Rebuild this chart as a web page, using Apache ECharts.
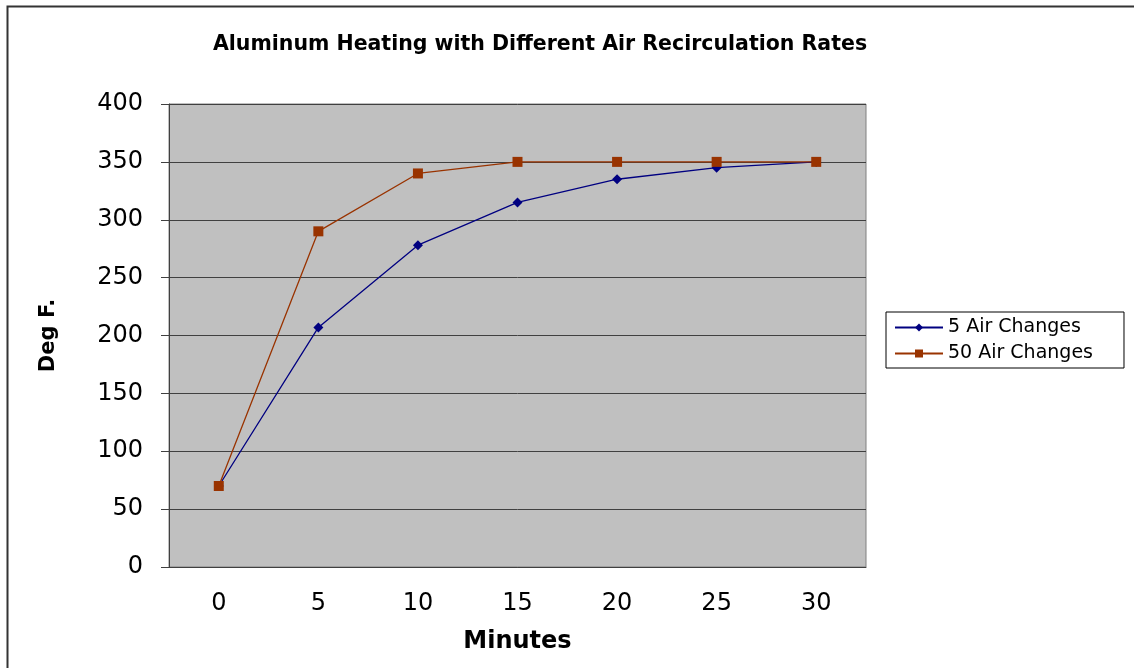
<!DOCTYPE html>
<html>
<head>
<meta charset="utf-8">
<script src="https://cdn.jsdelivr.net/npm/echarts@6/dist/echarts.min.js"></script>
<style>
  html, body { margin: 0; padding: 0; background: #fff; }
  #main { width: 1134px; height: 668px; }
</style>
</head>
<body>
<div id="main"></div>
<script>
const minutes = ['0', '5', '10', '15', '20', '25', '30']
const airChanges5 = [70, 207, 278, 315, 335, 345, 350]
const airChanges50 = [70, 290, 340, 350, 350, 350, 350]

const myChart = echarts.init(document.getElementById('main'))
// wide sans to get close to the stretched look of the original
const font = '"DejaVu Sans", Arial, sans-serif'

myChart.setOption({
  animation: false,
  textStyle: { fontFamily: font },
  title: {
    text: 'Aluminum Heating with Different Air Recirculation Rates',
    left: 535,
    textAlign: 'center',
    top: 29,
    textStyle: { fontSize: 20.5, fontWeight: 'bold', color: '#000', fontFamily: font }
  },
  graphic: [{
    type: 'rect',
    shape: { x: 7.5, y: 6.5, width: 1300, height: 800 },
    style: { fill: 'none', stroke: '#333', lineWidth: 2 },
    silent: true
  }],
  legend: {
    orient: 'vertical',
    left: 886,
    top: 312,
    padding: [6, 31, 5, 8],
    itemGap: 7,
    itemWidth: 48,
    itemHeight: 10,
    borderColor: '#000',
    borderWidth: 1,
    textStyle: { fontSize: 19, color: '#000', fontFamily: font },
    data: ['5 Air Changes', '50 Air Changes']
  },
  grid: {
    left: 169,
    right: 268,
    top: 104,
    bottom: 101,
    show: true,
    backgroundColor: '#C0C0C0',
    borderColor: '#808080',
    borderWidth: 1
  },
  xAxis: {
    type: 'category',
    data: minutes,
    boundaryGap: true,
    name: 'Minutes',
    nameLocation: 'middle',
    nameGap: 63,
    nameTextStyle: { fontSize: 24, fontWeight: 'bold', color: '#000' },
    axisLine: { lineStyle: { color: '#404040', width: 1 } },
    axisTick: { length: 8, lineStyle: { color: '#404040' } },
    axisLabel: { fontSize: 24, color: '#000', margin: 25 }
  },
  yAxis: {
    type: 'value',
    min: 0,
    max: 400,
    interval: 50,
    name: 'Deg F.',
    nameLocation: 'middle',
    nameGap: 110,
    nameRotate: 90,
    nameTextStyle: { fontSize: 21, fontWeight: 'bold', color: '#000' },
    axisLine: { show: true, lineStyle: { color: '#404040', width: 1 } },
    axisTick: { show: true, length: 8, lineStyle: { color: '#404040' } },
    axisLabel: { fontSize: 24, color: '#000', margin: 26 },
    splitLine: { lineStyle: { color: '#404040', width: 1 } }
  },
  series: [
    {
      name: '5 Air Changes',
      type: 'line',
      data: airChanges5,
      symbol: 'diamond',
      symbolSize: 10,
      itemStyle: { color: '#000080' },
      lineStyle: { color: '#000080', width: 1.3 }
    },
    {
      name: '50 Air Changes',
      type: 'line',
      data: airChanges50,
      symbol: 'rect',
      symbolSize: 10,
      itemStyle: { color: '#993300' },
      lineStyle: { color: '#993300', width: 1.3 }
    }
  ]
})
</script>
</body>
</html>
